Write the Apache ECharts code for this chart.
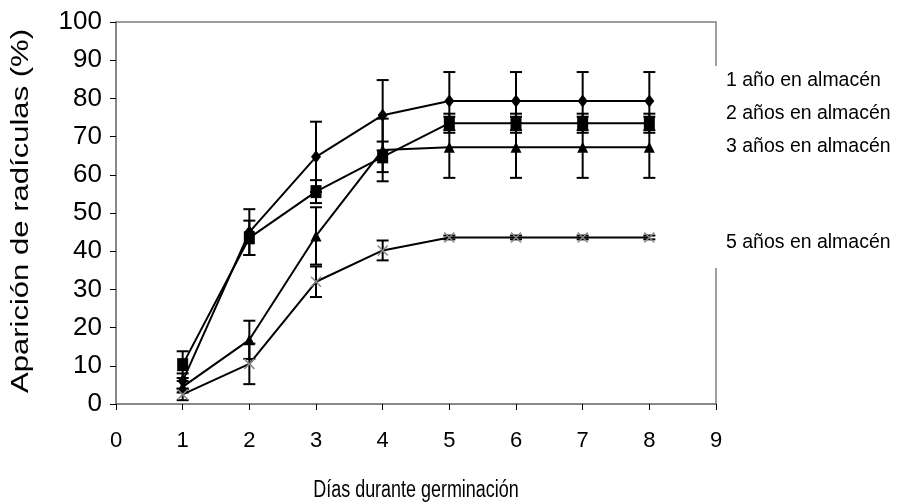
<!DOCTYPE html>
<html>
<head>
<meta charset="utf-8">
<script src="https://cdn.jsdelivr.net/npm/echarts@6/dist/echarts.min.js"></script>
<style>html,body{margin:0;padding:0;background:#fff}#c{width:898px;height:504px}</style>
</head>
<body>
<div id="c"></div>
<script>
const days = [1, 2, 3, 4, 5, 6, 7, 8];
const seriesNames = ['1 año en almacén', '2 años en almacén', '3 años en almacén', '5 años en almacén'];
const y1 = [6, 45, 64.7, 75.6, 79.3, 79.3, 79.3, 79.3];
const e1 = [2, 6, 9.2, 9.2, 7.6, 7.6, 7.6, 7.6];
const y2 = [10.3, 43.5, 55.6, 64.7, 73.5, 73.5, 73.5, 73.5];
const e2 = [3.5, 4.5, 3, 4, 2.5, 2.5, 2.5, 2.5];
const y3 = [4.5, 16.8, 44, 66.5, 67.2, 67.2, 67.2, 67.2];
const e3 = [1.5, 5, 7.5, 8.2, 8, 8, 8, 8];
const y5 = [2.5, 10.5, 32, 40.2, 43.6, 43.6, 43.6, 43.6];
const e5 = [1.5, 5.3, 4, 2.6, 0.5, 0.5, 0.5, 0.5];
const xTicks = [0, 1, 2, 3, 4, 5, 6, 7, 8, 9];
const yTicks = [0, 10, 20, 30, 40, 50, 60, 70, 80, 90, 100];
const xTitle = 'Días durante germinación';
const yTitle = 'Aparición de radículas (%)';
const labelY = [80, 113, 146, 242];

const FONT = '"Liberation Sans", Arial, sans-serif';
const AX = '#808080';

function errData(v, e) {
  return days.map((d, i) => [d, v[i] - e[i], v[i] + e[i]]);
}
function errSeries(v, e) {
  return {
    type: 'custom',
    z: 5,
    silent: true,
    data: errData(v, e),
    renderItem: function (params, api) {
      const x = api.value(0);
      const lo = api.coord([x, api.value(1)]);
      const hi = api.coord([x, api.value(2)]);
      const w = 6;
      const st = { stroke: '#000', lineWidth: 2 };
      return {
        type: 'group',
        children: [
          { type: 'line', shape: { x1: lo[0], y1: lo[1], x2: hi[0], y2: hi[1] }, style: st },
          { type: 'line', shape: { x1: hi[0] - w, y1: hi[1], x2: hi[0] + w, y2: hi[1] }, style: st },
          { type: 'line', shape: { x1: lo[0] - w, y1: lo[1], x2: lo[0] + w, y2: lo[1] }, style: st }
        ]
      };
    }
  };
}
function lineSeries(name, v, symbol, size, color) {
  return {
    type: 'line',
    name: name,
    z: 6,
    data: days.map((d, i) => [d, v[i]]),
    symbol: symbol,
    symbolSize: size,
    showAllSymbol: true,
    lineStyle: { color: '#000', width: 2 },
    itemStyle: color,
    emphasis: { disabled: true }
  };
}

const chart = echarts.init(document.getElementById('c'), null, { renderer: 'canvas' });
chart.setOption({
  animation: false,
  backgroundColor: '#fff',
  grid: { left: 116, right: 182, top: 22, bottom: 100, show: true, borderColor: AX, borderWidth: 1.5, backgroundColor: 'transparent' },
  xAxis: {
    type: 'value', min: xTicks[0], max: xTicks[xTicks.length - 1], interval: 1,
    axisLine: { onZero: false, lineStyle: { color: AX, width: 1.5 } },
    axisTick: { show: true, inside: false, length: 6, lineStyle: { color: '#000' } },
    axisLabel: { fontFamily: FONT, fontSize: 22, color: '#000', margin: 26 },
    splitLine: { show: false }
  },
  yAxis: {
    type: 'value', min: yTicks[0], max: yTicks[yTicks.length - 1], interval: 10,
    axisLine: { show: true, lineStyle: { color: AX, width: 1.5 } },
    axisTick: { show: true, inside: false, length: 6, lineStyle: { color: '#000' } },
    axisLabel: { fontFamily: FONT, fontSize: 26, color: '#000', margin: 14 },
    splitLine: { show: false }
  },
  graphic: [
    { type: 'rect', z: 100, shape: { x: 712, y: 66, width: 186, height: 202 }, style: { fill: '#fff' } },
    { type: 'text', z: 101, x: 416, y: 491, scaleX: 0.78,
      style: { text: xTitle, font: '23px ' + FONT, fill: '#000', align: 'center', verticalAlign: 'middle' } },
    { type: 'text', z: 101, x: 22, y: 211, rotation: Math.PI / 2, scaleX: 1.35,
      style: { text: yTitle, font: '23px ' + FONT, fill: '#000', align: 'center', verticalAlign: 'middle' } }
  ].concat(seriesNames.map((n, i) => ({
    type: 'text', z: 101, x: 726, y: labelY[i], scaleX: 0.95,
    style: { text: n, font: '20.5px ' + FONT, fill: '#000', verticalAlign: 'middle' }
  }))),
  series: [
    errSeries(y1, e1), errSeries(y2, e2), errSeries(y3, e3), errSeries(y5, e5),
    lineSeries(seriesNames[0], y1, 'diamond', [10, 13], { color: '#000' }),
    lineSeries(seriesNames[1], y2, 'rect', [11, 13], { color: '#000' }),
    lineSeries(seriesNames[2], y3, 'triangle', [11, 11], { color: '#000' }),
    lineSeries(seriesNames[3], y5, 'path://M0,0L10,10M10,0L0,10', [10, 10], { color: 'none', borderColor: '#888', borderWidth: 1.5 })
  ]
});
</script>
</body>
</html>
